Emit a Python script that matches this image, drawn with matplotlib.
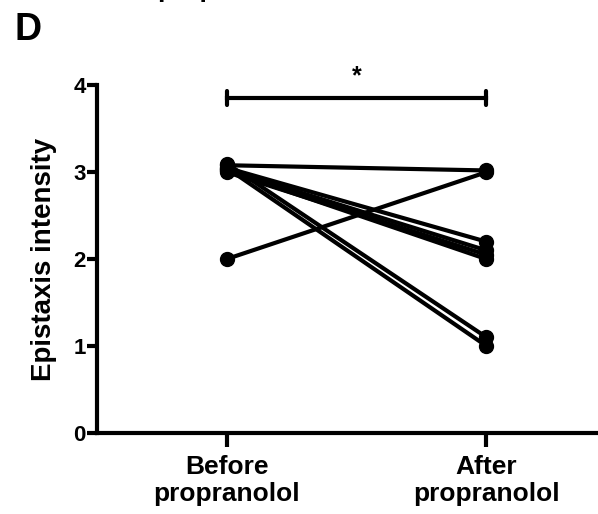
import numpy as np
from matplotlib import pyplot as plt

plt.rcParams['font.family'] = ['Liberation Sans', 'DejaVu Sans']
plt.rcParams['font.weight'] = 'bold'

groups = ['Before\npropranolol', 'After\npropranolol']
# each patient: (before, after)
before = [3.08, 2.0, 3.05, 3.03, 3.0, 3.02, 3.1, 3.05]
after = [3.02, 3.0, 2.2, 2.1, 2.05, 2.0, 1.1, 1.0]
sig_label = '*'
sig_y = 3.85

fig = plt.figure(figsize=(5.98, 5.14), dpi=100)
ax = fig.add_axes([0.162, 0.158, 0.838, 0.676])

x = np.arange(len(groups))
for b, a in zip(before, after):
    ax.plot(x, [b, a], '-o', color='black', lw=3, markersize=10,
            solid_capstyle='round', clip_on=False, zorder=3)

# significance bracket
ax.plot(x, [sig_y, sig_y], color='black', lw=3, clip_on=False)
for xi in x:
    ax.plot([xi, xi], [sig_y - 0.08, sig_y + 0.08], color='black', lw=3,
            solid_capstyle='round', clip_on=False)
ax.text(0.5, sig_y + 0.12, sig_label, ha='center', va='bottom',
        fontsize=18, fontweight='bold')

ax.set_xlim(-0.5, 1.43)
ax.set_ylim(0, 4)
ax.set_yticks([0, 1, 2, 3, 4])
ax.set_xticks(x)
ax.set_xticklabels(groups, fontsize=19, fontweight='bold', linespacing=1.15)
ax.tick_params(axis='x', length=10, width=3, pad=6)
ax.tick_params(axis='y', length=7, width=3, labelsize=16, pad=1)
ax.set_ylabel('Epistaxis intensity', fontsize=20, fontweight='bold', labelpad=12)
for s in ['top', 'right']:
    ax.spines[s].set_visible(False)
for s in ['left', 'bottom']:
    ax.spines[s].set_linewidth(3)

fig.text(0.025, 1 - 40 / 514, 'D', fontsize=27, fontweight='bold', ha='left', va='baseline')
# cut-off x labels from the panel above
fig.text(0.385, 1 + 2.5 / 514, 'propranolol', fontsize=19, fontweight='bold', ha='center', va='baseline')
fig.text(0.815, 1 + 6 / 514, 'propranolol', fontsize=19, fontweight='bold', ha='center', va='baseline')

fig.savefig('out.png', dpi=100)
